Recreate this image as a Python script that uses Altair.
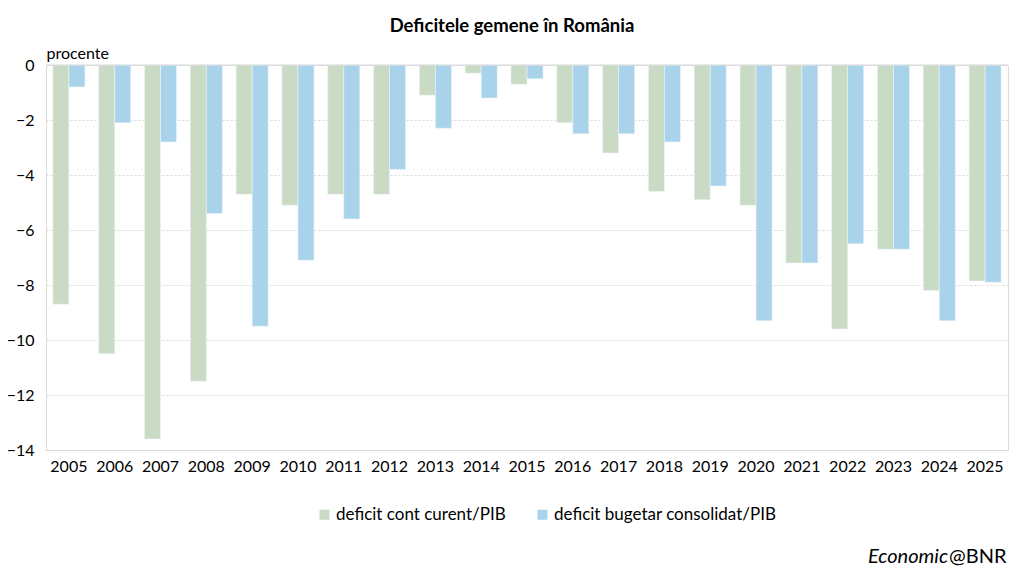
import altair as alt
import pandas as pd

years = [str(y) for y in range(2005, 2026)]
cont_curent = [-8.7, -10.5, -13.6, -11.5, -4.7, -5.1, -4.7, -4.7, -1.1, -0.3, -0.7,
               -2.1, -3.2, -4.6, -4.9, -5.1, -7.2, -9.6, -6.7, -8.2, -7.85]
bugetar = [-0.8, -2.1, -2.8, -5.4, -9.5, -7.1, -5.6, -3.8, -2.3, -1.2, -0.5,
           -2.5, -2.5, -2.8, -4.4, -9.3, -7.2, -6.5, -6.7, -9.3, -7.9]
series = ["deficit cont curent/PIB", "deficit bugetar consolidat/PIB"]
colors = ["#CADBC5", "#A8D3EA"]
y_ticks = [0, -2, -4, -6, -8, -10, -12, -14]

rows = []
for i, yr in enumerate(years):
    rows.append({"an": yr, "serie": series[0], "val": cont_curent[i]})
    rows.append({"an": yr, "serie": series[1], "val": bugetar[i]})
df = pd.DataFrame(rows)

FONT = "Lato"
PADL = 38
ORIG = 8 + PADL          # page x of the plot's left edge
W, H = 1008 - ORIG, 385

base = alt.Chart(df)

bars = base.mark_bar(stroke="#EEF3F7", strokeWidth=0.6).encode(
    x=alt.X("an:N", sort=years,
            scale=alt.Scale(paddingInner=0.3, paddingOuter=0.15),
            axis=alt.Axis(title=None, labelAngle=0, labelFontSize=16, labelFont=FONT,
                          labelColor="#000000", ticks=False, domain=False, labelPadding=8,
                          grid=False)),
    xOffset=alt.XOffset("serie:N", sort=series),
    y=alt.Y("val:Q", scale=alt.Scale(domain=[-14, 0], nice=False),
            axis=alt.Axis(values=y_ticks, title="procente", titleAngle=0, titleX=0,
                          titleY=-7, titleAlign="left", titleBaseline="alphabetic",
                          titleFont=FONT, titleFontSize=16, titleFontWeight="normal",
                          titleColor="#000000",
                          labelFont=FONT, labelFontSize=16, labelColor="#000000",
                          ticks=False, labelPadding=12, domainColor="#D9D9D9",
                          gridColor="#D9D9D9", gridDash=[2, 2], gridWidth=1)),
    color=alt.Color("serie:N", sort=series,
                    scale=alt.Scale(domain=series, range=colors),
                    legend=alt.Legend(title=None, orient="none", direction="horizontal",
                                      legendX=316 - ORIG, legendY=441, symbolType="square",
                                      symbolSize=100, symbolStrokeWidth=0,
                                      labelFont=FONT, labelFontSize=17,
                                      labelColor="#000000", columnPadding=28,
                                      labelOffset=3, labelLimit=400)),
)

zero = alt.Chart(pd.DataFrame({"z": [0]})).mark_rule(color="#D9D9D9", strokeWidth=1.2).encode(
    y=alt.Y("z:Q")
)

SPLIT = 948 - ORIG
sig1 = alt.Chart(pd.DataFrame({"t": ["Economic"]})).mark_text(
    font=FONT, fontSize=20, fontStyle="italic", align="right", baseline="alphabetic",
    color="#000000").encode(text="t:N", x=alt.value(SPLIT), y=alt.value(498))
sig2 = alt.Chart(pd.DataFrame({"t": ["@BNR"]})).mark_text(
    font=FONT, fontSize=20, align="left", baseline="alphabetic",
    color="#000000").encode(text="t:N", x=alt.value(SPLIT + 1), y=alt.value(498))

chart = alt.layer(bars, zero, sig1, sig2).properties(
    width=W, height=H,
    title=alt.TitleParams("Deficitele gemene în România", font=FONT, fontSize=18.5,
                          fontWeight="bold", color="#000000", anchor="middle",
                          dx=512 - (ORIG + W / 2), offset=10),
    autosize=alt.AutoSizeParams(type="none"),
    padding={"left": PADL, "top": 57, "right": 8, "bottom": 118},
).configure_view(stroke=None).configure(font=FONT)

chart.save("out.html", embed_options={"renderer": "svg", "actions": False})
